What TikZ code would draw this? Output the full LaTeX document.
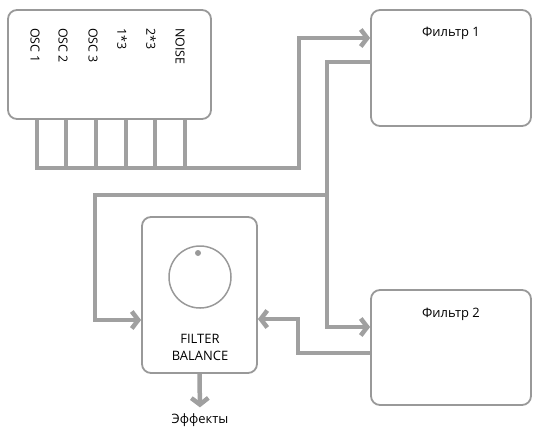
\documentclass[tikz,border=0pt]{standalone}
\usepackage{fontspec}
\setmainfont{Open Sans}
\usetikzlibrary{arrows.meta, positioning, calc}

\definecolor{wiregray}{HTML}{A0A0A0}
\definecolor{boxgray}{HTML}{999999}

\tikzset{
  box/.style={draw=boxgray, line width=1.8bp, rounded corners=9bp},
  wire/.style={draw=wiregray, line width=4.5bp},
  arr/.style={wire, -{Straight Barb[length=6.5bp, width=17bp]}},
  lbl/.style={font=\fontsize{13}{17}\selectfont, inner sep=1bp},
  osclbl/.style={font=\fontsize{12.5}{14}\selectfont, rotate=-90, anchor=west, inner sep=0pt}
}

\begin{document}
\begin{tikzpicture}[x=1bp, y=-1bp]
			\useasboundingbox (0,0) rectangle (534,429);
			% boxes
			\node [box, minimum width=203bp, minimum height=109bp] (osc) at (109.5,64.5) {};
			\node [box, minimum width=160bp, minimum height=116bp] (f1) at (451,68) {};
			\node [box, minimum width=160bp, minimum height=115bp] (f2) at (451,347.5) {};
			\node [box, minimum width=115bp, minimum height=156bp] (bal) at (199.5,295) {};
			% labels
			\node [osclbl] (o1) at (35,28) {OSC 1};
			\node [osclbl] (o2) at (63,28) {OSC 2};
			\node [osclbl] (o3) at (93,28) {OSC 3};
			\node [osclbl] (o4) at (122,28) {1*3};
			\node [osclbl] (o5) at (151,28) {2*3};
			\node [osclbl] (o6) at (180,28) {NOISE};
			\node [lbl] (f1lbl) at ($(f1.north)+(0,24)$) {Фильтр 1};
			\node [lbl] (f2lbl) at ($(f2.north)+(0,25)$) {Фильтр 2};
			\node [lbl, align=center] (ballbl) at (200,347.5) {FILTER\\BALANCE};
			\node [lbl] (fx) at (200,420) {Эффекты};
			% knob
			\node [circle, draw=boxgray, line width=1.5bp, minimum size=62bp] (knob) at (200,277) {};
			\fill [boxgray] ($(knob)+(-2,-24)$) circle (3bp);
			% wires
			\draw [arr] (37,0 |- osc.south) -- (37,168) -- (299,168) -- (299,38) -- (f1.west |- 0,38);
			\foreach \x in {66,96,126,155,185}
				\draw [wire] (\x,0 |- osc.south) -- (\x,168);
			\draw [arr] (f1.west |- 0,62) -- (327,62) -- (327,327) -- (f2.west |- 0,327);
			\draw [arr] (327,195) -- (95,195) -- (95,320) -- (bal.west |- 0,320);
			\draw [arr] (f2.west |- 0,353) -- (298,353) -- (298,319) -- (bal.east |- 0,319);
			\draw [arr, shorten >=5bp] (bal.south) -- (fx.north);
		\end{tikzpicture}
\end{document}
